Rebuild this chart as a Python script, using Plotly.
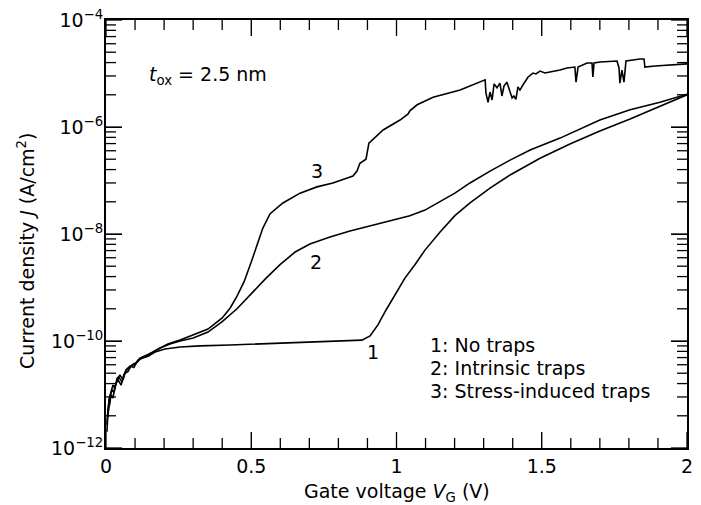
import plotly.graph_objects as go

# ---- data (gate voltage in V, current density in A/cm^2) ----
x_no_traps = [0.007, 0.010, 0.017, 0.024, 0.031, 0.038, 0.048, 0.059, 0.069, 0.083, 0.096,
              0.110, 0.127, 0.145, 0.169, 0.203, 0.255, 0.324, 0.427, 0.530, 0.633, 0.737,
              0.840, 0.881, 0.909, 0.936, 0.964, 0.995, 1.029, 1.064, 1.098, 1.150, 1.201,
              1.253, 1.322, 1.391, 1.494, 1.597, 1.700, 1.804, 1.907, 2.000]
j_no_traps = [3.8e-12, 7.9e-12, 1.1e-11, 1.5e-11, 1.3e-11, 2.0e-11, 2.3e-11, 1.9e-11, 2.9e-11,
              3.4e-11, 3.2e-11, 4.4e-11, 4.8e-11, 5.2e-11, 6.2e-11, 7.1e-11, 7.7e-11, 8.1e-11,
              8.4e-11, 8.8e-11, 9.2e-11, 9.6e-11, 1.0e-10, 1.04e-10, 1.24e-10, 2.0e-10, 3.8e-10,
              7.2e-10, 1.5e-9, 2.7e-9, 5.0e-9, 1.09e-8, 2.2e-8, 3.8e-8, 7.2e-8, 1.27e-7, 2.6e-7,
              4.8e-7, 8.4e-7, 1.41e-6, 2.4e-6, 4.0e-6]

x_intrinsic = [0.003, 0.007, 0.014, 0.021, 0.028, 0.034, 0.045, 0.055, 0.065, 0.079, 0.093,
               0.107, 0.124, 0.141, 0.162, 0.186, 0.220, 0.255, 0.300, 0.351, 0.400, 0.451,
               0.500, 0.551, 0.600, 0.651, 0.702, 0.771, 0.840, 0.909, 0.978, 1.046, 1.098,
               1.150, 1.201, 1.253, 1.322, 1.391, 1.460, 1.563, 1.700, 1.804, 1.907, 2.000]
j_intrinsic = [2.7e-12, 5.6e-12, 9.4e-12, 1.2e-11, 1.1e-11, 1.6e-11, 2.1e-11, 1.7e-11, 2.6e-11,
               3.2e-11, 3.7e-11, 4.0e-11, 5.0e-11, 5.5e-11, 6.2e-11, 7.4e-11, 8.8e-11, 1.0e-10,
               1.14e-10, 1.47e-10, 2.3e-10, 4.0e-10, 7.6e-10, 1.5e-9, 2.7e-9, 4.6e-9, 6.5e-9,
               8.8e-9, 1.14e-8, 1.41e-8, 1.75e-8, 2.2e-8, 2.8e-8, 4.0e-8, 5.8e-8, 9.0e-8, 1.5e-7,
               2.4e-7, 3.7e-7, 6.2e-7, 1.35e-6, 2.1e-6, 2.9e-6, 4.1e-6]

x_stress = [0.003, 0.007, 0.014, 0.017, 0.024, 0.031, 0.041, 0.052, 0.062, 0.076, 0.086,
            0.100, 0.117, 0.134, 0.155, 0.179, 0.213, 0.255, 0.300, 0.351, 0.400, 0.427,
            0.451, 0.475, 0.500, 0.523, 0.540, 0.565, 0.609, 0.668, 0.726, 0.781, 0.850,
            0.864, 0.874, 0.895, 0.902, 0.905, 0.954, 1.012, 1.040, 1.046, 1.071, 1.126,
            1.219, 1.305, 1.308, 1.315, 1.322, 1.329, 1.336, 1.346, 1.356, 1.363, 1.370,
            1.380, 1.391, 1.398, 1.404, 1.411, 1.418, 1.425, 1.435, 1.453, 1.470, 1.480,
            1.494, 1.511, 1.528, 1.563, 1.587, 1.614, 1.618, 1.625, 1.656, 1.673, 1.676,
            1.680, 1.701, 1.735, 1.759, 1.766, 1.769, 1.776, 1.783, 1.790, 1.811, 1.838,
            1.852, 1.855, 1.890, 1.931, 1.976, 2.000]
j_stress = [2.0e-12, 4.7e-12, 7.2e-12, 9.8e-12, 8.6e-12, 1.44e-11, 1.9e-11, 1.5e-11, 2.4e-11,
            2.7e-11, 3.4e-11, 3.7e-11, 4.8e-11, 5.0e-11, 6.0e-11, 7.1e-11, 8.8e-11, 1.04e-10,
            1.29e-10, 1.67e-10, 2.7e-10, 4.1e-10, 6.9e-10, 1.27e-9, 3.0e-9, 7.1e-9, 1.29e-8,
            2.4e-8, 3.8e-8, 5.8e-8, 7.6e-8, 9.0e-8, 1.21e-7, 1.5e-7, 2.1e-7, 2.5e-7, 4.2e-7,
            5.0e-7, 8.8e-7, 1.35e-6, 1.75e-6, 2.0e-6, 2.6e-6, 3.6e-6, 4.9e-6, 7.6e-6, 4.3e-6,
            2.9e-6, 4.5e-6, 3.2e-6, 6.4e-6, 5.4e-6, 6.6e-6, 3.8e-6, 5.8e-6, 6.9e-6, 4.5e-6,
            3.5e-6, 3.8e-6, 3.3e-6, 5.6e-6, 4.9e-6, 6.1e-6, 8.6e-6, 1.02e-5, 9.8e-6, 1.11e-5,
            1.02e-5, 1.07e-5, 1.16e-5, 1.27e-5, 1.32e-5, 6.9e-6, 1.32e-5, 1.57e-5, 1.57e-5,
            8.6e-6, 1.57e-5, 1.64e-5, 1.71e-5, 1.71e-5, 1.27e-5, 6.6e-6, 1.16e-5, 6.9e-6,
            1.71e-5, 1.79e-5, 1.87e-5, 1.87e-5, 1.32e-5, 1.38e-5, 1.44e-5, 1.51e-5, 1.51e-5]

x_tick_vals = [0, 0.5, 1, 1.5, 2]
x_tick_text = ["0", "0.5", "1", "1.5", "2"]
x_minor_vals = [0.1, 0.2, 0.3, 0.4, 0.6, 0.7, 0.8, 0.9, 1.1, 1.2, 1.3, 1.4, 1.6, 1.7, 1.8, 1.9]
y_tick_vals = [1e-12, 1e-10, 1e-8, 1e-6, 1e-4]
y_tick_text = ["10<sup>\u221212</sup>", "10<sup>\u221210</sup>", "10<sup>\u22128</sup>",
               "10<sup>\u22126</sup>", "10<sup>\u22124</sup>"]
# minor ticks of the reference: k^2 x 10^b (log pattern spread over two decades)
y_minor_vals = [k * k * 10.0 ** b for b in (-12, -10, -8, -6) for k in range(2, 10)]

curve_labels = ["1", "2", "3"]
legend_lines = ["1: No traps", "2: Intrinsic traps", "3: Stress-induced traps"]

FONT = "DejaVu Sans"
W, H = 701, 505
M = dict(l=106, r=14, t=20, b=57)
X_RANGE = [0, 2]
Y_LOG_RANGE = [-12, -4]
MAJOR_LEN, MINOR_LEN = 16, 10
line_style = dict(color="black", width=1.6)
tick_style = dict(color="black", width=1.3)

fig = go.Figure()
for xs, ys in [(x_no_traps, j_no_traps), (x_intrinsic, j_intrinsic), (x_stress, j_stress)]:
    fig.add_trace(go.Scatter(x=xs, y=ys, mode="lines", line=line_style,
                             showlegend=False, hoverinfo="skip"))

# inside tick marks on all four sides, drawn through the axes' own scales
x_per_px = (X_RANGE[1] - X_RANGE[0]) / (W - M["l"] - M["r"])
dec_per_px = (Y_LOG_RANGE[1] - Y_LOG_RANGE[0]) / (H - M["t"] - M["b"])
y_lo, y_hi = 10.0 ** Y_LOG_RANGE[0], 10.0 ** Y_LOG_RANGE[1]
for vals, L in ((x_tick_vals, MAJOR_LEN), (x_minor_vals, MINOR_LEN)):
    for v in vals:
        for y0, y1 in ((y_lo, y_lo * 10 ** (L * dec_per_px)),
                       (y_hi, y_hi / 10 ** (L * dec_per_px))):
            fig.add_trace(go.Scatter(x=[v, v], y=[y0, y1], mode="lines", line=tick_style,
                                     cliponaxis=False, showlegend=False, hoverinfo="skip"))
for vals, L in ((y_tick_vals, MAJOR_LEN), (y_minor_vals, MINOR_LEN)):
    for v in vals:
        for x0, x1 in ((X_RANGE[0], X_RANGE[0] + L * x_per_px),
                       (X_RANGE[1], X_RANGE[1] - L * x_per_px)):
            fig.add_trace(go.Scatter(x=[x0, x1], y=[v, v], mode="lines", line=tick_style,
                                     cliponaxis=False, showlegend=False, hoverinfo="skip"))

fig.update_layout(
    width=W, height=H,
    margin=dict(**M, autoexpand=False),
    paper_bgcolor="white", plot_bgcolor="white",
    font=dict(family=FONT, color="black", size=19),
    showlegend=False,
)

common = dict(showgrid=False, zeroline=False, showline=True, linewidth=2,
              linecolor="black", mirror="allticks", ticks="inside",
              tickwidth=1, tickcolor="black")

fig.update_layout(
    xaxis=dict(range=X_RANGE, tickmode="array", tickvals=x_tick_vals, ticktext=x_tick_text,
               ticklen=MAJOR_LEN, tickfont=dict(family=FONT, size=19, color="black"),
               **common),
    yaxis=dict(type="log", range=Y_LOG_RANGE, tickmode="array", tickvals=y_tick_vals,
               ticktext=y_tick_text, ticklen=MAJOR_LEN, ticklabelstandoff=-3,
               tickfont=dict(family=FONT, size=19, color="black"), **common),
)

ann = []
# axis titles
ann.append(dict(text="Gate voltage <i>V</i><sub>G</sub> (V)", xref="paper", yref="paper",
                x=0.5, y=-0.105, xanchor="center", yanchor="middle", showarrow=False,
                font=dict(family=FONT, size=19)))
ann.append(dict(text="Current density <i>J</i> (A/cm<sup>2</sup>)", xref="paper", yref="paper",
                x=-0.138, y=0.46, xanchor="center", yanchor="middle", showarrow=False,
                textangle=-90, font=dict(family=FONT, size=19)))
# oxide thickness
ann.append(dict(text="<i>t</i><sub>ox</sub> = 2.5 nm", xref="paper", yref="paper",
                x=0.0706, y=0.871, xanchor="left", yanchor="middle", showarrow=False,
                font=dict(family=FONT, size=19)))
# curve labels
label_pos = [(0.459, 0.225), (0.362, 0.435), (0.363, 0.647)]
for t, (px, py) in zip(curve_labels, label_pos):
    ann.append(dict(text=t, xref="paper", yref="paper", x=px, y=py,
                    xanchor="center", yanchor="middle", showarrow=False,
                    font=dict(family=FONT, size=19)))
# legend text
for i, t in enumerate(legend_lines):
    ann.append(dict(text=t, xref="paper", yref="paper", x=0.554, y=0.241 - 0.054 * i,
                    xanchor="left", yanchor="middle", showarrow=False,
                    font=dict(family=FONT, size=19)))
fig.update_layout(annotations=ann)

fig.write_html("out.html", config={"displayModeBar": False},
               post_script="document.body.style.margin='0px';")
